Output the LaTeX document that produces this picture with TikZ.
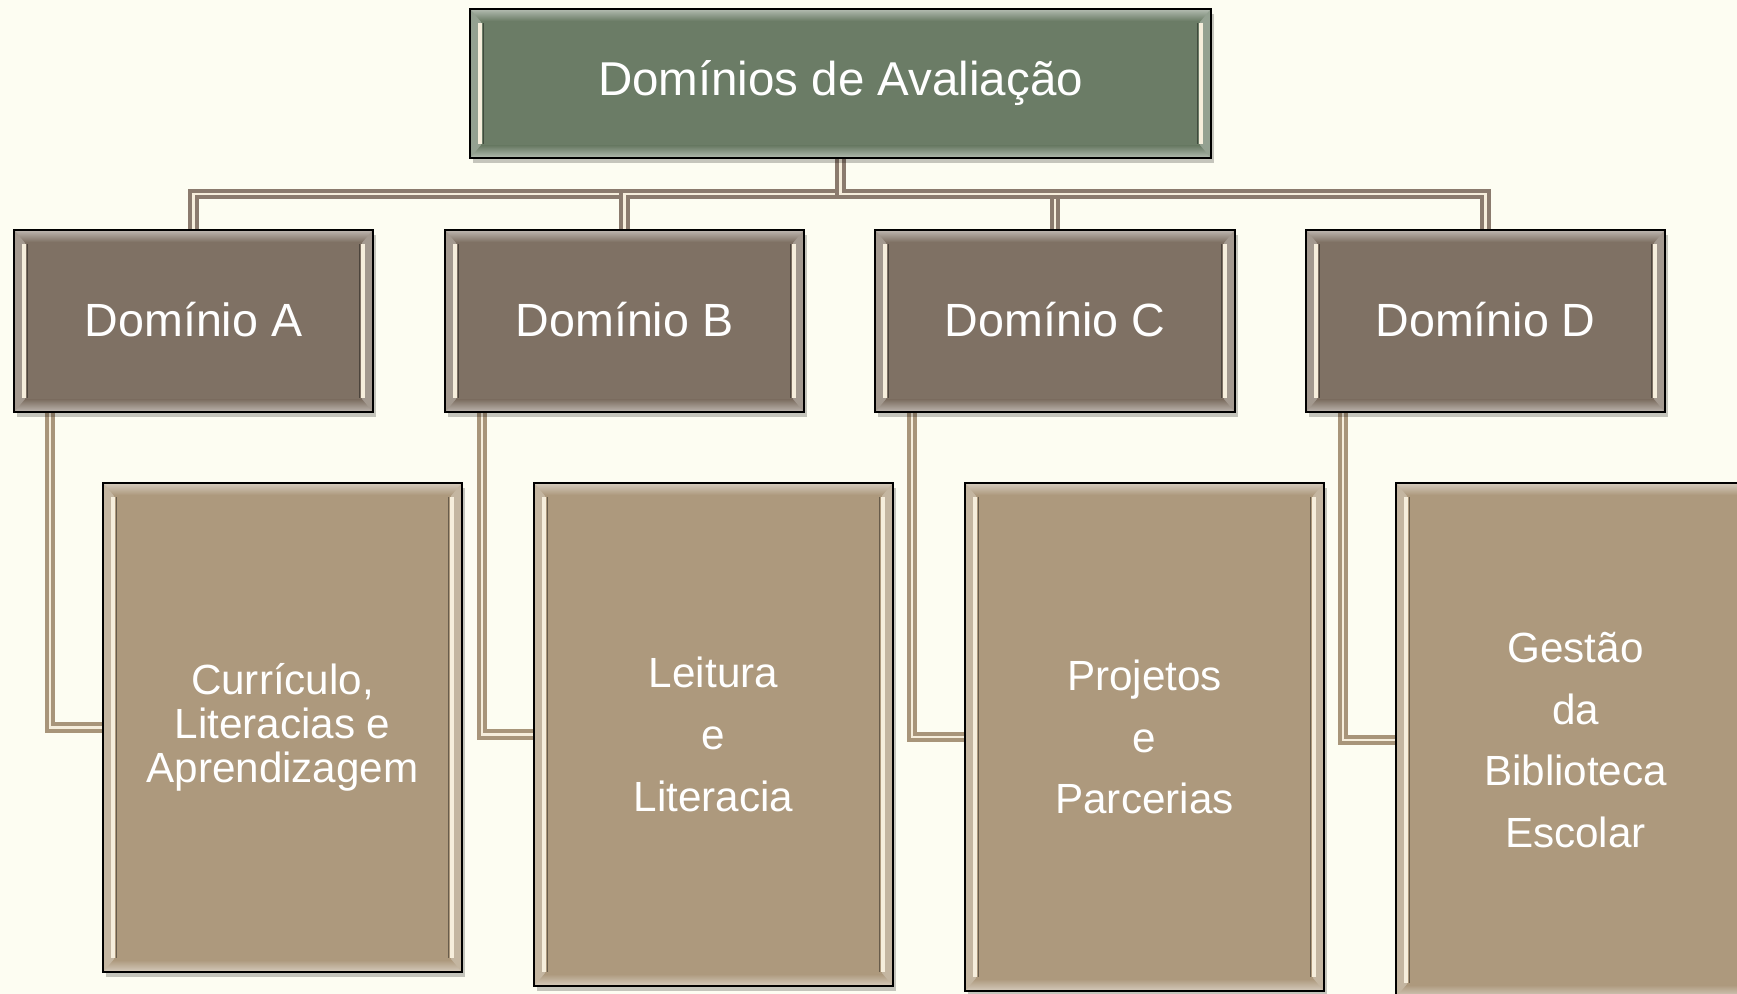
\documentclass[tikz,border=0pt]{standalone}
\usepackage{fontspec}
\setmainfont{Liberation Sans}
\usetikzlibrary{calc,shadows}
\definecolor{bgc}{HTML}{FDFDF2}
\definecolor{topc}{HTML}{6B7C66}
\definecolor{domc}{HTML}{7F7164}
\definecolor{chc}{HTML}{AD997D}
\definecolor{tconn}{HTML}{8B7B6E}
\definecolor{cconn}{HTML}{A8957A}
\definecolor{hilite}{HTML}{F6EEDC}
\pgfdeclarelayer{bglayer}
\pgfsetlayers{bglayer,main}
\tikzset{
  box/.style={draw=black, line width=1.1pt, text=white, inner sep=0pt, outer sep=0pt,
    drop shadow={shadow xshift=1.5pt, shadow yshift=-2.5pt, opacity=0.22, fill=black}},
  topbox/.style={box, fill=topc, font=\fontsize{23.75}{28}\selectfont},
  dombox/.style={box, fill=domc, font=\fontsize{23.3}{28}\selectfont},
  childbox/.style={box, fill=chc, align=center},
  topconn/.style={draw=tconn, line width=2pt, double=hilite, double distance=1.1pt},
  childconn/.style={draw=cconn, line width=2pt, double=hilite, double distance=1.1pt},
}
% name, x1, y1, x2, y2, style, text, colour
\newcommand\mkbox[8]{%
  \node[#6, minimum width={0.5pt*(#4-#2)}, minimum height={0.5pt*(#5-#3)}] (#1)
    at ({(#2+#4)/2},{(#3+#5)/2}) {#7};
  \shade[top color=#8!55!white, bottom color=#8] ($(#1.north west)+(1,1)$) rectangle ($(#1.north east)+(-1,12)$);
  \shade[top color=#8, bottom color=#8!55!white] ($(#1.south west)+(1,-12)$) rectangle ($(#1.south east)+(-1,-1)$);
  \fill[#8!72!white] ($(#1.north west)+(1,1)$) -- ($(#1.north west)+(11,13)$) -- ($(#1.south west)+(11,-13)$) -- ($(#1.south west)+(1,-1)$) -- cycle;
  \fill[#8!72!white] ($(#1.north east)+(-1,1)$) -- ($(#1.north east)+(-11,13)$) -- ($(#1.south east)+(-11,-13)$) -- ($(#1.south east)+(-1,-1)$) -- cycle;
  \draw[hilite, line width=1.6pt] ($(#1.north west)+(10,14)$) -- ($(#1.south west)+(10,-14)$);
  \draw[hilite, line width=1.6pt] ($(#1.north east)+(-10,14)$) -- ($(#1.south east)+(-10,-14)$);
  \draw[#8!60!black, line width=0.5pt] ($(#1.north west)+(13.5,14)$) -- ($(#1.south west)+(13.5,-14)$);
  \draw[#8!60!black, line width=0.5pt] ($(#1.north east)+(-13.5,14)$) -- ($(#1.south east)+(-13.5,-14)$);
  \draw[black, line width=1.1pt] (#1.north west) rectangle (#1.south east);
}
\begin{document}
\begin{tikzpicture}[x=0.5pt, y=-0.5pt]
\useasboundingbox (0,0) rectangle (1737,994);
\clip (0,0) rectangle (1737,994);

\mkbox{top}{470}{9}{1211}{158}{topbox}{\raisebox{2pt}{Domínios de Avaliação}}{topc}

\mkbox{dA}{14}{230}{373}{412}{dombox}{\raisebox{2pt}{Domínio A}}{domc}
\mkbox{dB}{445}{230}{804}{412}{dombox}{\raisebox{2pt}{Domínio B}}{domc}
\mkbox{dC}{875}{230}{1235}{412}{dombox}{\raisebox{2pt}{Domínio C}}{domc}
\mkbox{dD}{1306}{230}{1665}{412}{dombox}{\raisebox{2pt}{Domínio D}}{domc}

\mkbox{cA}{103}{483}{462}{972}{childbox, font=\fontsize{21.1}{22}\selectfont}{Currículo,\\Literacias e\\Aprendizagem}{chc}
\mkbox{cB}{534}{483}{893}{986}{childbox, font=\fontsize{21.1}{30.8}\selectfont}{Leitura\\e\\Literacia}{chc}
\mkbox{cC}{965}{483}{1324}{991}{childbox, font=\fontsize{21.1}{30.8}\selectfont}{Projetos\\e\\Parcerias}{chc}
\mkbox{cD}{1396}{483}{1755}{997}{childbox, font=\fontsize{21.1}{30.8}\selectfont}{Gestão\\da\\Biblioteca\\Escolar}{chc}

\begin{pgfonlayer}{bglayer}
  \fill[bgc] (0,0) rectangle (1737,994);
  \draw[topconn] (top.south) -- ++(0,36) -| (dA.north);
  \draw[topconn] (top.south) -- ++(0,36) -| (dB.north);
  \draw[topconn] (top.south) -- ++(0,36) -| (dC.north);
  \draw[topconn] (top.south) -- ++(0,36) -| (dD.north);
  \draw[childconn] ($(dA.south west)+(36,0)$) |- (cA.west);
  \draw[childconn] ($(dB.south west)+(37,0)$) |- (cB.west);
  \draw[childconn] ($(dC.south west)+(37,0)$) |- (cC.west);
  \draw[childconn] ($(dD.south west)+(37,0)$) |- (cD.west);
\end{pgfonlayer}
\end{tikzpicture}
\end{document}
